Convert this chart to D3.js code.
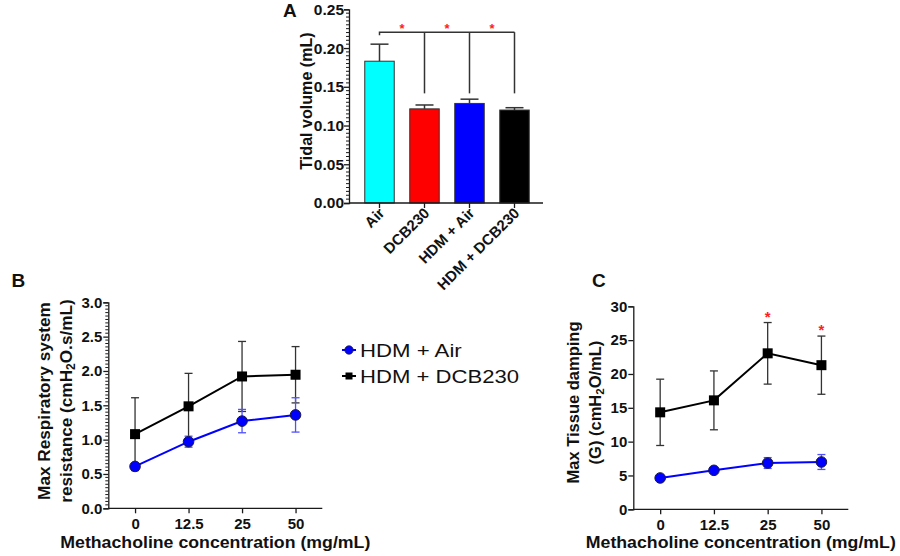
<!DOCTYPE html>
<html>
<head>
<meta charset="utf-8">
<script src="https://cdn.jsdelivr.net/npm/d3@7"></script>
<style>
  html, body { margin: 0; padding: 0; background: #fff; }
  svg { display: block; }
  text { font-family: "Liberation Sans", Arial, sans-serif; }
</style>
</head>
<body>
<svg id="chart" width="900" height="556"></svg>
<script>
// ---------- Data ----------
const groups = ["Air", "DCB230", "HDM + Air", "HDM + DCB230"];
const groupColors = ["#00ffff", "#ff0000", "#0000ff", "#000000"];
const tidalMean = [0.183, 0.1215, 0.1285, 0.120];
const tidalSem = [0.022, 0.005, 0.0055, 0.003];
const tidalTicks = [0, 0.05, 0.10, 0.15, 0.20, 0.25];
const bracketLevel = 0.2205;
const bracketDrop = 0.1415;
const bracketTickEnd = 0.2165;
const starLevelA = 0.2272;

const concentrations = ["0", "12.5", "25", "50"];
const seriesNames = ["HDM + Air", "HDM + DCB230"];

const resHdmAir = [0.61, 0.97, 1.27, 1.36];
const resHdmAirErr = [0.045, 0.08, 0.17, 0.25];
const resHdmDcb = [1.08, 1.485, 1.92, 1.945];
const resHdmDcbErr = [0.53, 0.48, 0.51, 0.41];
const resTicks = [0, 0.5, 1.0, 1.5, 2.0, 2.5, 3.0];

const gHdmAir = [4.63, 5.76, 6.84, 6.99];
const gHdmAirErr = [0.25, 0.3, 0.8, 1.1];
const gHdmDcb = [14.33, 16.1, 23.05, 21.3];
const gHdmDcbErr = [4.9, 4.35, 4.55, 4.3];
const gTicks = [0, 5, 10, 15, 20, 25, 30];
const gSignificant = [false, false, true, true];

// ---------- Setup ----------
const svg = d3.select("#chart");
const FONT = '"Liberation Sans", Arial, sans-serif';
const AX = "#1a1a1a";

function styleAxis(g, size) {
  g.selectAll(".domain").attr("stroke", AX).attr("stroke-width", 1.3);
  g.selectAll(".tick line").attr("stroke", AX).attr("stroke-width", 1.3);
  g.selectAll(".tick text").attr("font-family", FONT).attr("font-size", size || 15)
    .attr("font-weight", "bold").attr("fill", "#111");
}

function minorTicks(g, scale, values, x, len) {
  g.selectAll(null).data(values).enter().append("line")
    .attr("x1", x).attr("x2", x - len)
    .attr("y1", d => scale(d)).attr("y2", d => scale(d))
    .attr("stroke", AX).attr("stroke-width", 1);
}

// ---------- Panel A ----------
(function () {
  const x0 = 349, x1 = 543;
  const y = d3.scaleLinear().domain([0, 0.25]).range([203, 9.3]);
  const x = d3.scaleBand().domain(groups).range([357, 537])
    .paddingInner(0.345).paddingOuter(0.1725);
  const g = svg.append("g");

  const minors = d3.range(0, 0.2501, 0.005).filter(v => Math.abs(v / 0.05 - Math.round(v / 0.05)) > 1e-6);
  minorTicks(g, y, minors, x0, 3);

  g.selectAll("rect.bar").data(groups).enter().append("rect")
    .attr("x", d => x(d)).attr("width", x.bandwidth())
    .attr("y", (d, i) => y(tidalMean[i]))
    .attr("height", (d, i) => y(0) - y(tidalMean[i]))
    .attr("fill", (d, i) => groupColors[i])
    .attr("stroke", "#333").attr("stroke-width", 1);

  groups.forEach((d, i) => {
    const cx = x(d) + x.bandwidth() / 2;
    const top = y(tidalMean[i] + tidalSem[i]);
    g.append("line").attr("x1", cx).attr("x2", cx)
      .attr("y1", y(tidalMean[i])).attr("y2", top)
      .attr("stroke", "#333").attr("stroke-width", 1.5);
    g.append("line").attr("x1", cx - 9).attr("x2", cx + 9)
      .attr("y1", top).attr("y2", top)
      .attr("stroke", "#333").attr("stroke-width", 1.5);
  });

  const ya = g.append("g").attr("transform", `translate(${x0},0)`)
    .call(d3.axisLeft(y).tickValues(tidalTicks).tickFormat(d3.format(".2f")).tickSize(5).tickPadding(0));
  styleAxis(ya, 15.5);
  const xa = g.append("g").attr("transform", `translate(0,${y(0)})`)
    .call(d3.axisBottom(x).tickSize(5).tickSizeOuter(0).tickFormat(""));
  xa.select(".domain").attr("d", `M${x0},0H${x1}`);
  styleAxis(xa);

  g.selectAll("text.cat").data(groups).enter().append("text")
    .attr("transform", d => `translate(${x(d) + x.bandwidth() / 2 + 6},${y(0) + 11}) rotate(-45)`)
    .attr("text-anchor", "end")
    .attr("font-size", 15).attr("font-weight", "bold").attr("fill", "#111")
    .text(d => d);

  const cxs = groups.map(d => x(d) + x.bandwidth() / 2);
  const by = y(bracketLevel);
  g.append("path")
    .attr("d", `M${cxs[0]},${y(bracketTickEnd)}V${by}H${cxs[3]}`)
    .attr("fill", "none").attr("stroke", "#333").attr("stroke-width", 1.5);
  for (let i = 1; i < 4; i++) {
    g.append("line").attr("x1", cxs[i]).attr("x2", cxs[i])
      .attr("y1", by).attr("y2", y(bracketDrop))
      .attr("stroke", "#333").attr("stroke-width", 1.5);
    g.append("text").attr("x", (cxs[i - 1] + cxs[i]) / 2).attr("y", y(starLevelA) + 6)
      .attr("text-anchor", "middle").attr("font-size", 13).attr("font-weight", "bold")
      .attr("fill", "#ff2020").text("*");
  }

  g.append("text").attr("transform", `translate(311.5,101) rotate(-90)`)
    .attr("text-anchor", "middle").attr("font-size", 16.1).attr("font-weight", "bold")
    .attr("fill", "#111").text("Tidal volume (mL)");

  g.append("text").attr("x", 283).attr("y", 16.5).attr("font-size", 19)
    .attr("font-weight", "bold").attr("fill", "#111").text("A");
})();

// ---------- Line panels ----------
function linePanel(opts) {
  const g = svg.append("g");
  const y = d3.scaleLinear().domain(opts.domain).range([opts.y0, opts.yTop]);
  const x = d3.scalePoint().domain(concentrations).range([opts.x0, opts.x1]).padding(0.5);

  if (opts.minor) minorTicks(g, y, opts.minor, opts.x0, 3);

  const ya = g.append("g").attr("transform", `translate(${opts.x0},0)`)
    .call(d3.axisLeft(y).tickValues(opts.ticks).tickFormat(opts.fmt).tickSize(5).tickPadding(1));
  styleAxis(ya);
  const xa = g.append("g").attr("transform", `translate(0,${opts.y0})`)
    .call(d3.axisBottom(x).tickSize(5).tickSizeOuter(0).tickPadding(5));
  xa.select(".domain").attr("d", `M${opts.x0},0H${opts.x1}`);
  styleAxis(xa);

  const series = [
    { mean: opts.dcb, err: opts.dcbErr, color: "#000", errColor: "#333", shape: "square" },
    { mean: opts.air, err: opts.airErr, color: "#0000ff", errColor: "#5050ff", shape: "circle" }
  ];
  series.forEach(s => {
    concentrations.forEach((c, i) => {
      const cx = x(c);
      const hi = y(s.mean[i] + s.err[i]), lo = y(s.mean[i] - s.err[i]);
      g.append("line").attr("x1", cx).attr("x2", cx).attr("y1", hi).attr("y2", lo)
        .attr("stroke", s.errColor).attr("stroke-width", 1.3);
      [hi, lo].forEach(v => g.append("line").attr("x1", cx - 4).attr("x2", cx + 4)
        .attr("y1", v).attr("y2", v).attr("stroke", s.errColor).attr("stroke-width", 1.3));
    });
    g.append("path")
      .attr("d", d3.line().x((d, i) => x(concentrations[i])).y(d => y(d))(s.mean))
      .attr("fill", "none").attr("stroke", s.color).attr("stroke-width", 2);
    concentrations.forEach((c, i) => {
      if (s.shape === "circle") {
        g.append("circle").attr("cx", x(c)).attr("cy", y(s.mean[i])).attr("r", 5.3)
          .attr("fill", "#0000ff").attr("stroke", "#1a1a40").attr("stroke-width", 1);
      } else {
        g.append("rect").attr("x", x(c) - 5).attr("y", y(s.mean[i]) - 5)
          .attr("width", 10).attr("height", 10).attr("fill", "#000");
      }
    });
  });

  if (opts.sig) {
    concentrations.forEach((c, i) => {
      if (!opts.sig[i]) return;
      g.append("text").attr("x", x(c)).attr("y", y(opts.dcb[i] + opts.dcbErr[i]) - 1)
        .attr("text-anchor", "middle").attr("font-size", 15).attr("font-weight", "bold")
        .attr("fill", "#ff2020").text("*");
    });
  }

  const cy = opts.titleY;
  opts.yTitle.forEach((line, k) => {
    const t = g.append("text").attr("transform", `translate(${opts.titleX[k]},${cy}) rotate(-90)`)
      .attr("text-anchor", "middle").attr("font-size", opts.titleSize).attr("font-weight", "bold")
      .attr("fill", "#111");
    line.forEach(part => {
      if (part.sub) {
        t.append("tspan").attr("baseline-shift", "-28%").attr("font-size", opts.titleSize * 0.7).text(part.t);
      } else {
        t.append("tspan").text(part.t);
      }
    });
  });

  g.append("text").attr("x", (opts.x0 + opts.x1) / 2).attr("y", 548)
    .attr("text-anchor", "middle").attr("font-size", 16.8).attr("font-weight", "bold")
    .attr("fill", "#111").attr("textLength", 310).attr("lengthAdjust", "spacingAndGlyphs")
    .text("Methacholine concentration (mg/mL)");

  g.append("text").attr("x", opts.labelX).attr("y", 286.7).attr("font-size", 19)
    .attr("font-weight", "bold").attr("fill", "#111").text(opts.label);
}

linePanel({
  domain: [0, 3], y0: 508.3, yTop: 302.3, x0: 108.3, x1: 322.3,
  ticks: resTicks, fmt: d3.format(".1f"),
  minor: d3.range(0, 3.001, 0.05).filter(v => Math.abs(v / 0.5 - Math.round(v / 0.5)) > 1e-6),
  air: resHdmAir, airErr: resHdmAirErr, dcb: resHdmDcb, dcbErr: resHdmDcbErr,
  yTitle: [[{ t: "Max Respiratory system" }], [{ t: "resistance (cmH" }, { t: "2", sub: true }, { t: "O.s/mL)" }]],
  titleX: [50, 72], titleY: 401, titleSize: 17.2,
  label: "B", labelX: 11.5
});

linePanel({
  domain: [0, 30], y0: 509.3, yTop: 306.3, x0: 633.3, x1: 848.3,
  ticks: gTicks, fmt: d3.format("d"),
  air: gHdmAir, airErr: gHdmAirErr, dcb: gHdmDcb, dcbErr: gHdmDcbErr,
  sig: gSignificant,
  yTitle: [[{ t: "Max Tissue damping" }], [{ t: "(G) (cmH" }, { t: "2", sub: true }, { t: "O/mL)" }]],
  titleX: [579, 601], titleY: 402.5, titleSize: 16.5,
  label: "C", labelX: 592
});

// ---------- Legend ----------
(function () {
  const g = svg.append("g");
  const items = [
    { name: seriesNames[0], shape: "circle", color: "#0000ff", y: 350, len: 101.7 },
    { name: seriesNames[1], shape: "square", color: "#000", y: 376, len: 159 }
  ];
  items.forEach(it => {
    g.append("line").attr("x1", 342).attr("x2", 356).attr("y1", it.y).attr("y2", it.y)
      .attr("stroke", it.color).attr("stroke-width", 2);
    if (it.shape === "circle") {
      g.append("circle").attr("cx", 349).attr("cy", it.y).attr("r", 4.2)
        .attr("fill", "#0000ff").attr("stroke", "#1a1a40").attr("stroke-width", 0.8);
    } else {
      g.append("rect").attr("x", 345.5).attr("y", it.y - 3.5).attr("width", 7).attr("height", 7)
        .attr("fill", "#000");
    }
    g.append("text").attr("x", 360).attr("y", it.y + 6.7).attr("font-size", 18.6)
      .attr("fill", "#111").attr("textLength", it.len).attr("lengthAdjust", "spacingAndGlyphs")
      .text(it.name);
  });
})();
</script>
</body>
</html>
